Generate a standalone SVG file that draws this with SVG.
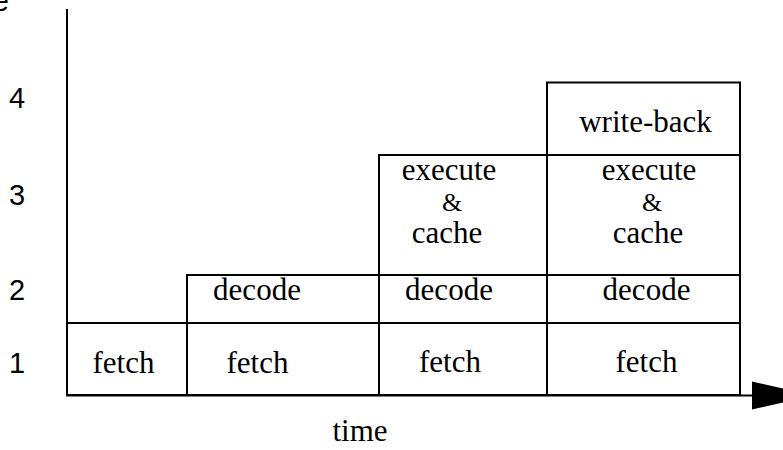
<svg xmlns="http://www.w3.org/2000/svg" width="783" height="450" viewBox="0 0 783 450">
<style>
.cell{fill:#fff;stroke:#000;stroke-width:2}
.t{font-family:"Liberation Serif","Times New Roman",serif;font-size:31px;fill:#000;text-anchor:middle}
.amp{font-size:26px}
.n{font-family:"Liberation Sans",Arial,sans-serif;font-size:29px;fill:#000;text-anchor:middle}
.axis{stroke:#000;stroke-width:2;fill:none}
</style>
<defs>
<marker id="ah" markerUnits="userSpaceOnUse" markerWidth="64" markerHeight="30" refX="0" refY="14" orient="auto" overflow="visible">
<path d="M0,0 L62,14 L0,28 Z" fill="#000"/>
</marker>
</defs>
<rect width="783" height="450" fill="#fff"/>
<g id="labels">
<text class="n" x="9" y="11" style="text-anchor:end">e</text>
<text class="n" x="17" y="108">4</text>
<text class="n" x="17" y="205">3</text>
<text class="n" x="17" y="300">2</text>
<text class="n" x="17" y="373">1</text>
<text class="t" x="360" y="441">time</text>
</g>
<g id="fetch1"><rect class="cell" x="67" y="323" width="120" height="72"/><text class="t" x="123.5" y="372.5">fetch</text></g>
<g id="fetch2"><rect class="cell" x="187" y="323" width="192" height="72"/><text class="t" x="257.5" y="372.5">fetch</text></g>
<g id="fetch3"><rect class="cell" x="379" y="323" width="168" height="72"/><text class="t" x="450" y="372">fetch</text></g>
<g id="fetch4"><rect class="cell" x="547" y="323" width="193" height="72"/><text class="t" x="646.5" y="372">fetch</text></g>
<g id="decode2"><rect class="cell" x="187" y="275" width="192" height="48"/><text class="t" x="257" y="300">decode</text></g>
<g id="decode3"><rect class="cell" x="379" y="275" width="168" height="48"/><text class="t" x="449" y="300">decode</text></g>
<g id="decode4"><rect class="cell" x="547" y="275" width="193" height="48"/><text class="t" x="646.5" y="300">decode</text></g>
<g id="execute3"><rect class="cell" x="379" y="155" width="168" height="120"/>
<text class="t" x="449" y="179.5">execute</text><text class="t amp" x="452" y="211">&amp;</text><text class="t" x="447" y="242.5">cache</text></g>
<g id="execute4"><rect class="cell" x="547" y="155" width="193" height="120"/>
<text class="t" x="649" y="179.5">execute</text><text class="t amp" x="652" y="211">&amp;</text><text class="t" x="648" y="242.5">cache</text></g>
<g id="writeback4"><rect class="cell" x="547" y="82.5" width="193" height="72.5"/><text class="t" x="645.5" y="131.5">write-back</text></g>
<g id="connectors">
<line class="axis" x1="67" y1="9" x2="67" y2="396"/>
<line class="axis" x1="66" y1="395.5" x2="752" y2="395.5" marker-end="url(#ah)"/>
</g>
</svg>
